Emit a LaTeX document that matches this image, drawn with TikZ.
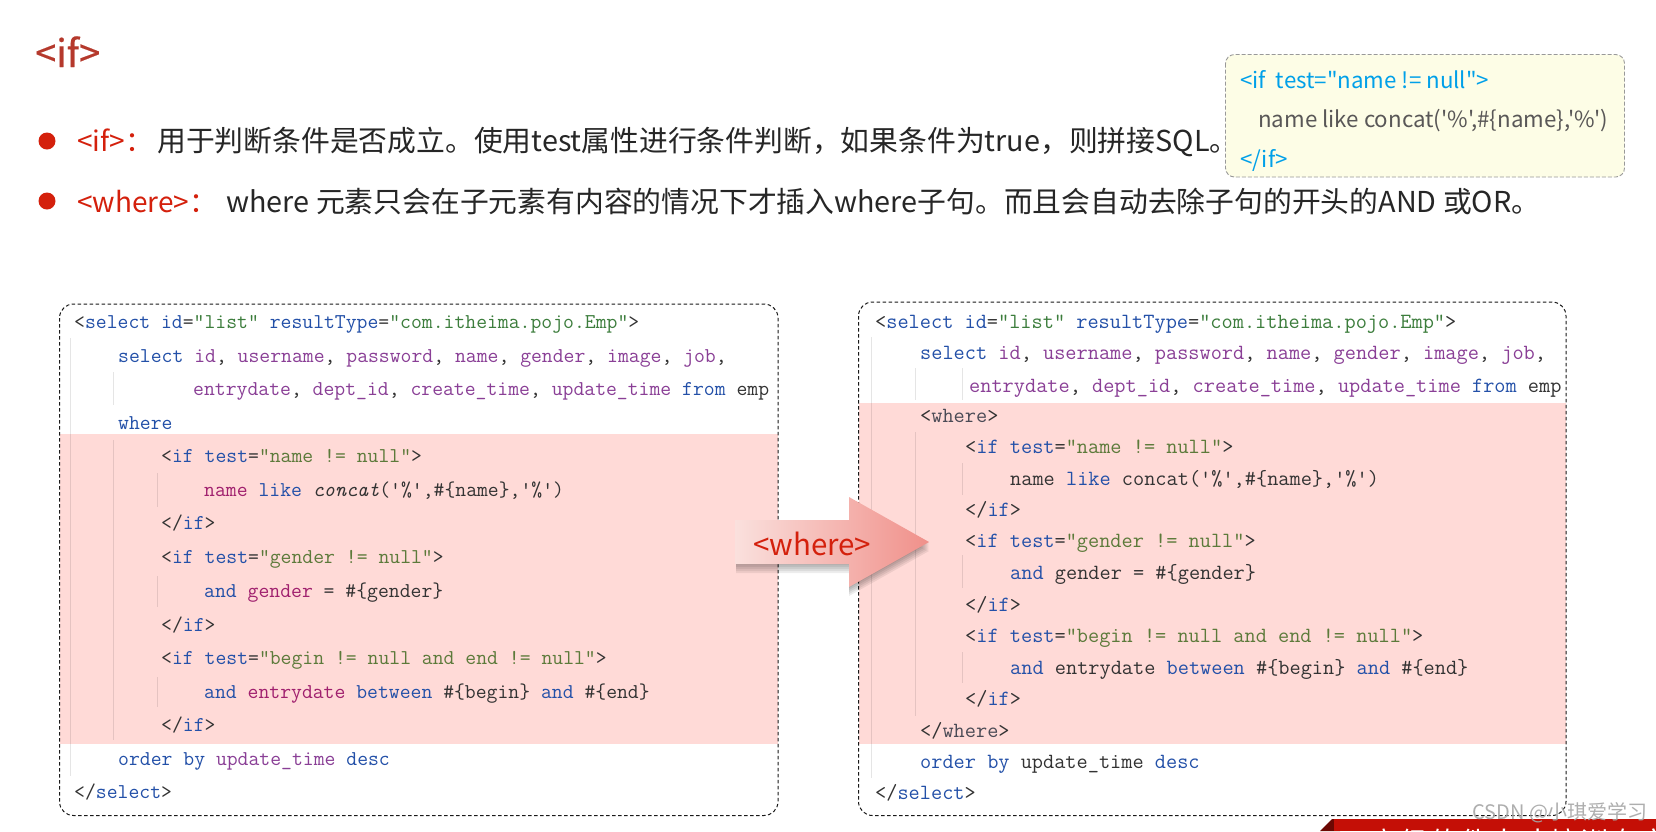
\documentclass[tikz,border=0pt]{standalone}
\usepackage{fontspec}
\setmainfont{Noto Sans CJK SC}
\newfontfamily\notefont{Noto Sans CJK SC}
\newfontfamily\headfont[FakeBold=0.4]{Noto Sans CJK SC}
\definecolor{hlpink}{HTML}{FFDAD7}
\definecolor{keyred}{HTML}{D4200C}
\definecolor{titlered}{HTML}{B5392C}
\definecolor{bardark}{HTML}{C40F06}
\definecolor{notefill}{HTML}{FDFDE6}
\definecolor{noteblue}{HTML}{00A0E9}
\definecolor{notegray}{HTML}{595757}
\definecolor{arrowleft}{HTML}{FAE0DD}
\definecolor{arrowright}{HTML}{F0908A}
\definecolor{codeblue}{HTML}{2350A8}
\definecolor{codepurple}{HTML}{8A3F96}
\definecolor{codegreen}{HTML}{3C7D3C}
\definecolor{codeolive}{HTML}{5C7A3A}
\definecolor{codemag}{HTML}{A0206E}
\definecolor{codegray}{HTML}{4A4A55}
\newcommand\cb[1]{\textcolor{codeblue}{#1}}
\newcommand\cp[1]{\textcolor{codepurple}{#1}}
\newcommand\cg[1]{\textcolor{codegreen}{#1}}
\newcommand\co[1]{\textcolor{codeolive}{#1}}
\newcommand\cm[1]{\textcolor{codemag}{#1}}
\newcommand\cy[1]{\textcolor{codegray}{#1}}
\tikzset{
  textline/.style={anchor=base west,inner sep=0pt},
  bodytext/.style={textline,font=\fontsize{28.8}{29}\selectfont,text=black!85},
  keytext/.style={textline,font=\fontsize{28}{28}\selectfont,text=keyred},
  notetext/.style={textline,font=\fontsize{22.3}{23}\notefont},
  leftcode/.style={textline,font=\fontsize{21.1}{21.1}\ttfamily,text=black!80},
  rightcode/.style={textline,font=\fontsize{21.7}{21.7}\ttfamily,text=black!80},
  codebox/.style={draw=black!90,dash pattern=on 3.5pt off 2.5pt,line width=1pt,rounded corners=14pt},
  guideline/.style={draw=black,opacity=0.1,line width=0.8pt}
}

\begin{document}
\begin{tikzpicture}[x=1pt,y=-1pt]
	\useasboundingbox (0,0) rectangle (1656,831);
	\fill[white] (0,0) rectangle (1656,831);

	% Heading and the two bullet lines
	\node[textline,font=\fontsize{38}{38}\headfont,text=titlered] (title) at (35,67) {<if>};
	\fill[keyred] (47,141) circle (8.5);
	\fill[keyred] (47,201) circle (8.5);
	\node[keytext] (ifkey) at (77,151.5) {<if>：};
	\node[bodytext] (ifdesc) at (157,151.5) {用于判断条件是否成立。使用test属性进行条件判断，如果条件为true，则拼接SQL。};
	\node[keytext] (wherekey) at (77,212.5) {<where>：};
	\node[bodytext] (wheredesc) at (226,212.5) {where 元素只会在子元素有内容的情况下才插入where子句。而且会自动去除子句的开头的AND 或OR。};

	% The yellow note at the top right
	\draw[fill=notefill,draw=black!40,dash pattern=on 4pt off 2pt,line width=0.9pt,rounded corners=9pt] (1225.5,54.5) rectangle (1624.5,177);
	\node[notetext,text=noteblue] (notea) at (1240,88) {<if\ \ test="name != null">};
	\node[notetext,text=notegray] (noteb) at (1258,127) {name like concat('\%',\#\{name\},'\%')};
	\node[notetext,text=noteblue] (notec) at (1240,167) {</if>};

	% Pink bands behind the code, then the two dashed boxes
	\fill[hlpink] (59.5,434) rectangle (778,744);
	\fill[hlpink] (858.5,403) rectangle (1566,744);
	\draw[codebox] (59.5,304) rectangle (778,815.5);
	\draw[codebox] (858.5,302) rectangle (1566,815.5);

	% Indent guides of the left box
	\draw[guideline] (70.5,338) -- (70.5,776);
	\draw[guideline] (113,372) -- (113,405);
	\draw[guideline] (113,440) -- (113,740);
	\draw[guideline] (157,473) -- (157,507);
	\draw[guideline] (157,576) -- (157,607);
	\draw[guideline] (157,677) -- (157,707);

	% Indent guides of the right box
	\draw[guideline] (871.5,337) -- (871.5,778);
	\draw[guideline] (915,368) -- (915,400);
	\draw[guideline] (915,432) -- (915,716);
	\draw[guideline] (962,368) -- (962,400);
	\draw[guideline] (962,463) -- (962,495);
	\draw[guideline] (962,555) -- (962,588);
	\draw[guideline] (962,652) -- (962,683);

	% Code of the left box
	\node[leftcode] (la) at (74,328) {<\cb{select} \cb{id}=\cg{"list"} \cb{resultType}=\cg{"com.itheima.pojo.Emp"}>};
	\node[leftcode] (lb) at (118,362) {\cb{select} \cp{id}, \cp{username}, \cp{password}, \cp{name}, \cp{gender}, \cp{image}, \cp{job},};
	\node[leftcode] (lc) at (193,395) {\cp{entrydate}, \cp{dept\_id}, \cp{create\_time}, \cp{update\_time} \cb{from} emp};
	\node[leftcode] (ld) at (118,429) {\cb{where}};
	\node[leftcode] (le) at (161,462) {<\cb{if} \cb{test}=\co{"name != null"}>};
	\node[leftcode] (lf) at (204,496) {\cm{name} \cb{like} \textit{concat}('\%',\#\{name\},'\%')};
	\node[leftcode] (lg) at (161,529) {</\cb{if}>};
	\node[leftcode] (lh) at (161,563) {<\cb{if} \cb{test}=\co{"gender != null"}>};
	\node[leftcode] (li) at (204,597) {\cb{and} \cm{gender} = \#\{gender\}};
	\node[leftcode] (lj) at (161,631) {</\cb{if}>};
	\node[leftcode] (lk) at (161,664) {<\cb{if} \cb{test}=\co{"begin != null and end != null"}>};
	\node[leftcode] (ll) at (204,698) {\cb{and} \cm{entrydate} \cb{between} \#\{begin\} \cb{and} \#\{end\}};
	\node[leftcode] (lm) at (161,731) {</\cb{if}>};
	\node[leftcode] (ln) at (118,765) {\cb{order by} \cp{update\_time} \cb{desc}};
	\node[leftcode] (lo) at (74,798) {</\cb{select}>};

	% Code of the right box
	\node[rightcode] (ra) at (875,328) {<\cb{select} \cb{id}=\cg{"list"} \cb{resultType}=\cg{"com.itheima.pojo.Emp"}>};
	\node[rightcode] (rb) at (920,359) {\cb{select} \cp{id}, \cp{username}, \cp{password}, \cp{name}, \cp{gender}, \cp{image}, \cp{job},};
	\node[rightcode] (rc) at (969,392) {\cp{entrydate}, \cp{dept\_id}, \cp{create\_time}, \cp{update\_time} \cb{from} emp};
	\node[rightcode] (rd) at (920,422) {<\cy{where}>};
	\node[rightcode] (re) at (965,453) {<\cb{if} \cb{test}=\co{"name != null"}>};
	\node[rightcode] (rf) at (1010,485) {name \cb{like} concat('\%',\#\{name\},'\%')};
	\node[rightcode] (rg) at (965,516) {</\cb{if}>};
	\node[rightcode] (rh) at (965,547) {<\cb{if} \cb{test}=\co{"gender != null"}>};
	\node[rightcode] (ri) at (1010,579) {\cb{and} gender = \#\{gender\}};
	\node[rightcode] (rj) at (965,611) {</\cb{if}>};
	\node[rightcode] (rk) at (965,642) {<\cb{if} \cb{test}=\co{"begin != null and end != null"}>};
	\node[rightcode] (rl) at (1010,674) {\cb{and} entrydate \cb{between} \#\{begin\} \cb{and} \#\{end\}};
	\node[rightcode] (rm) at (965,705) {</\cb{if}>};
	\node[rightcode] (rn) at (920,737) {</\cy{where}>};
	\node[rightcode] (ro) at (920,768) {\cb{order by} update\_time \cb{desc}};
	\node[rightcode] (rp) at (875,799) {</\cb{select}>};

	% The big arrow between the boxes: a soft shadow first, then the arrow, its text goes on top
	\foreach \d in {1,3,5,7,9}
		\fill[black,opacity=0.07,yshift=-\d pt] (736,520) -- (849,520) -- (849,497) -- (929,542) -- (849,587) -- (849,564) -- (736,564) -- cycle;
	\shade[left color=arrowleft,right color=arrowright]
		(735.5,520) -- (849,520) -- (849,497) -- (929,542) -- (849,587) -- (849,564) -- (735.5,564) -- cycle;
	\node[textline,font=\fontsize{29.5}{29.5}\selectfont,text=keyred] (wherelabel) at (753,555) {<where>};

	% Red strip in the bottom corner, cut off by the edge of the page
	\fill[black!45!bardark] (1320,831) -- (1332,819) -- (1340,819) -- (1340,831) -- cycle;
	\fill[bardark] (1334,819) rectangle (1656,831);
	\begin{scope}
		\clip (1334,819) rectangle (1656,831);
		\node[textline,font=\fontsize{28}{28}\selectfont,text=white] (strip) at (1370,852) {高\hspace{2pt}级\hspace{2pt}软\hspace{2pt}件\hspace{2pt}人\hspace{2pt}才\hspace{2pt}培\hspace{2pt}训\hspace{2pt}专\hspace{2pt}家};
	\end{scope}

	% Watermark
	\node[textline,font=\fontsize{20}{20}\selectfont,text=black!35,opacity=0.9] (mark) at (1472,819) {CSDN @小琪爱学习};
\end{tikzpicture}
\end{document}
